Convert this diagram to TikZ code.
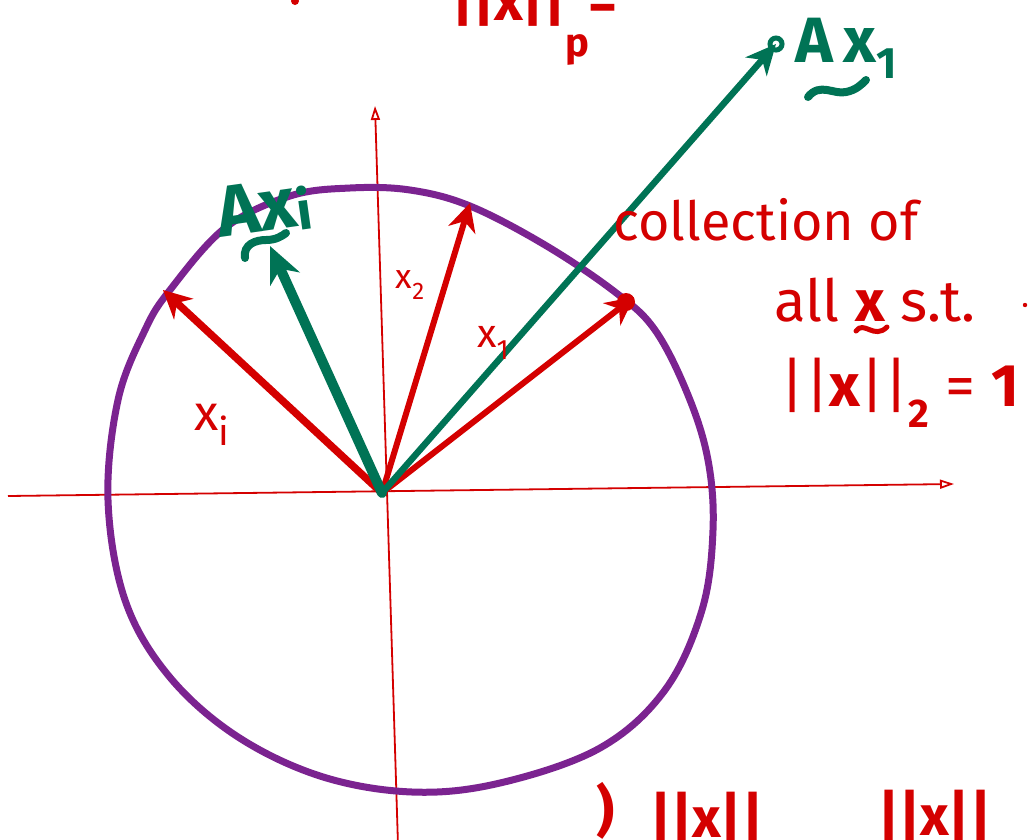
\documentclass[tikz,border=0pt]{standalone}
\usepackage{fontspec}
\setsansfont{Fira Sans}
\usetikzlibrary{arrows.meta}
\definecolor{hred}{RGB}{212,0,0}
\definecolor{hgreen}{RGB}{0,115,85}
\definecolor{hpurple}{RGB}{123,35,144}
\tikzset{
  axisline/.style={hred, line width=1.8pt, -{Triangle[open,length=14pt,width=9pt,line width=1.8pt]}},
  redvec/.style={hred, line width=6pt, line cap=round, -{Stealth[length=28pt,width=28pt,inset=9pt]}},
  greenvec/.style={hgreen, line width=6.5pt, line cap=round, -{Stealth[length=30pt,width=28pt,inset=9pt]}},
  hand/.style={font=\sffamily, inner sep=0pt},
  redtxt/.style={hand, text=hred},
  greentxt/.style={hand, text=hgreen},
  squig/.style={line width=6pt, line cap=round},
}
\begin{document}
\begin{tikzpicture}[x=1pt,y=-1pt]
\useasboundingbox (0,0) rectangle (1031,839);
\clip (0,0) rectangle (1031,839);
% coordinates
\coordinate (O) at (382,493);
\coordinate (axL) at (8,496);
\coordinate (axR) at (954,484);
\coordinate (ayB) at (398,845);
\coordinate (ayT) at (375,106);
\coordinate (xi) at (163,290);
\coordinate (x2) at (470,203);
\coordinate (x1) at (634,297);
\coordinate (Axi) at (270,246);
\coordinate (Ax1) at (776,44);
% axes
\draw[axisline] (axL) -- (axR);
\draw[axisline] (ayB) -- (ayT);
% unit circle (hand drawn)
\draw[hpurple, line width=7pt, line join=round] plot[smooth cycle, tension=0.6] coordinates {
 (108,500) (118,400) (145,330) (170,290) (225,228) (290,196) (350,188) (410,190)
 (470,206) (545,245) (615,292) (655,330) (688,395) (708,460) (713,530) (702,610)
 (665,690) (600,748) (500,783) (412,792) (320,776) (235,735) (168,675) (125,600)};
% vectors
\draw[redvec, line width=7.5pt] (O) -- (xi);
\draw[redvec] (O) -- (x2);
\draw[redvec] (O) -- (x1);
\fill[hred] (x1) ++(-8,5) circle (9);
\draw[greenvec, line width=10pt, -{Stealth[length=36pt,width=32pt,inset=11pt]}] (O) -- (Axi);
\draw[greenvec] (O) -- (Ax1);
\draw[hgreen, line width=5pt] (Ax1) circle (6);
% labels
\node[redtxt, font=\sffamily\fontsize{50}{50}\selectfont] (lxi) at (212,425) {x\raisebox{-0.3em}{\fontsize{38}{38}\selectfont i}};
\node[redtxt, font=\sffamily\fontsize{34}{34}\selectfont] (lx2) at (410,285) {x\raisebox{-0.3em}{\fontsize{24}{24}\selectfont 2}};
\node[redtxt, font=\sffamily\fontsize{40}{40}\selectfont] (lx1) at (493,343) {x\raisebox{-0.3em}{\fontsize{28}{28}\selectfont 1}};
\node[greentxt, font=\sffamily\bfseries\fontsize{72}{72}\selectfont, rotate=8] (lAxi) at (264,208) {Ax\raisebox{-0.05em}{\fontsize{54}{54}\selectfont i}};
\draw[hgreen, squig, line width=8pt] (245,258) .. controls (243,244) and (256,240) .. (266,240) .. controls (276,240) and (282,236) .. (286,233);
\node[greentxt, font=\sffamily\bfseries\fontsize{64}{64}\selectfont] (lAx1) at (846,48) {A\,x\raisebox{-0.25em}{\fontsize{44}{44}\selectfont 1}};
\draw[hgreen, squig, line width=8pt] (808,97) .. controls (820,82) and (834,95) .. (846,92) .. controls (856,90) and (861,85) .. (866,80);
\node[redtxt, font=\sffamily\fontsize{54}{54}\selectfont] (coll) at (766,220) {collection of};
\node[redtxt, font=\sffamily\fontsize{58}{58}\selectfont] (all) at (875,300) {all \textbf{x} s.t.};
\draw[hred, squig, line width=5pt] (856,331) .. controls (864,320) and (874,340) .. (887,327);
\fill[hred] (1025,305) circle (2.2);
\node[redtxt, font=\sffamily\fontsize{60}{60}\selectfont] (norm2) at (900,393) {||\textbf{x}||\raisebox{-0.35em}{\fontsize{40}{40}\selectfont\bfseries 2} = \textbf{1}};
% cropped texts
\node[redtxt, font=\sffamily\bfseries\fontsize{56}{56}\selectfont, anchor=base west] (topnorm) at (452,20) {||x||\raisebox{-0.65em}{\fontsize{40}{40}\selectfont p}=};
\fill[hred] (295,1) circle (4);
\node[redtxt, font=\sffamily\bfseries\fontsize{56}{56}\selectfont, anchor=north west] (bot1) at (596,782) {)};
\node[redtxt, font=\sffamily\bfseries\fontsize{56}{56}\selectfont, anchor=north west] (bot2) at (650,792) {||x||};
\node[redtxt, font=\sffamily\bfseries\fontsize{56}{56}\selectfont, anchor=north west] (bot3) at (878,790) {||x||};
\end{tikzpicture}
\end{document}
